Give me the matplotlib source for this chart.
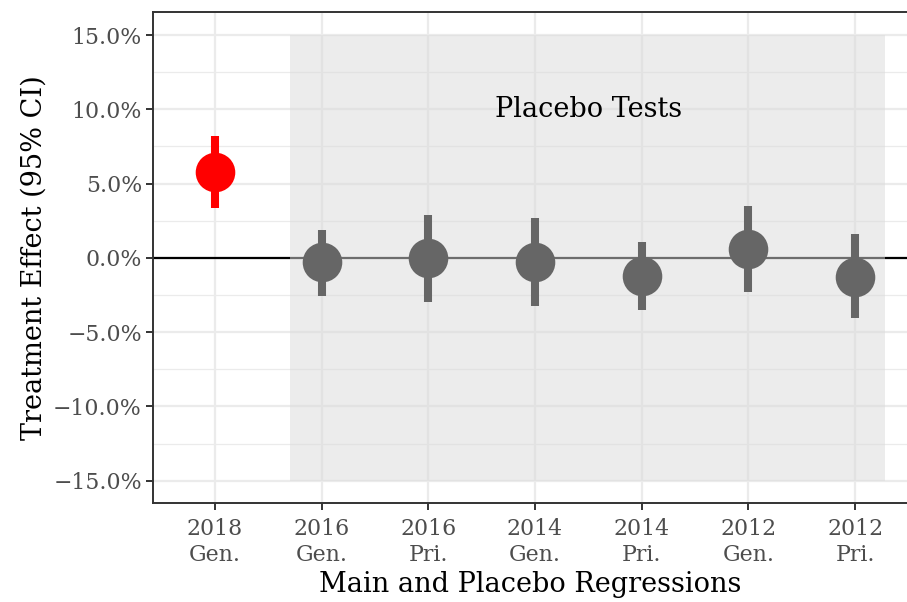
import matplotlib
matplotlib.use("Agg")
import matplotlib.pyplot as plt
import numpy as np

# estimates and 95% CIs (in %)
labels = ["2018\nGen.", "2016\nGen.", "2016\nPri.", "2014\nGen.", "2014\nPri.", "2012\nGen.", "2012\nPri."]
est = [5.78, -0.27, 0.02, -0.25, -1.21, 0.61, -1.26]
lo = [3.36, -2.56, -2.96, -3.27, -3.54, -2.33, -4.06]
hi = [8.20, 1.88, 2.89, 2.67, 1.10, 3.52, 1.61]
colors = ["#ff0000"] + ["#666666"] * 6

yticks = [-15, -10, -5, 0, 5, 10, 15]
ytick_labels = ["\u221215.0%", "\u221210.0%", "\u22125.0%", "0.0%", "5.0%", "10.0%", "15.0%"]

plt.rcParams["font.family"] = ["DejaVu Serif"]

fig = plt.figure(figsize=(9.07, 6.02), dpi=100)
ax = fig.add_axes([153 / 907, 1 - 503 / 602, 1 - 153 / 907, (503 - 12) / 602])

x = np.arange(1, len(labels) + 1)

# grid like theme_bw
ax.set_yticks(yticks)
ax.set_yticks(np.arange(-12.5, 15, 5), minor=True)
ax.set_xticks(x)
ax.grid(True, which="major", color="#ebebeb", linewidth=1.6, zorder=0)
ax.grid(True, which="minor", axis="y", color="#ebebeb", linewidth=0.9, zorder=0)
ax.set_axisbelow(True)

ax.axhline(0, color="black", linewidth=1.6, zorder=1)

# placebo shading
ax.fill_between([1.7, 7.28], -15, 15, color="#dadada", alpha=0.5, linewidth=0, zorder=2)
ax.text(4.5, 10, "Placebo Tests", ha="center", va="center", fontsize=19.5, color="black", zorder=3)

for xi, e, l, h, c in zip(x, est, lo, hi, colors):
    ax.plot([xi, xi], [l, h], color=c, linewidth=5.8, solid_capstyle="butt", zorder=4)
    ax.plot(xi, e, "o", color=c, markersize=28.5, markeredgewidth=0, zorder=5)

ax.set_xlim(0.42, 7.486)
ax.set_ylim(-16.5, 16.55)
ax.set_xticklabels(labels)
ax.set_yticklabels(ytick_labels)
ax.tick_params(axis="both", which="major", length=5, width=1.4, color="#333333",
               labelsize=15.8, labelcolor="#4d4d4d", pad=3)
ax.tick_params(axis="x", which="major", pad=6)
ax.tick_params(axis="y", which="minor", length=0)

for s in ["left", "bottom", "top"]:
    ax.spines[s].set_color("#333333")
    ax.spines[s].set_linewidth(1.4)
ax.spines["right"].set_visible(False)

ax.set_xlabel("Main and Placebo Regressions", fontsize=19.5, labelpad=4)
ax.set_ylabel("Treatment Effect (95% CI)", fontsize=19.5, labelpad=4)

fig.savefig("out.png", dpi=100)
